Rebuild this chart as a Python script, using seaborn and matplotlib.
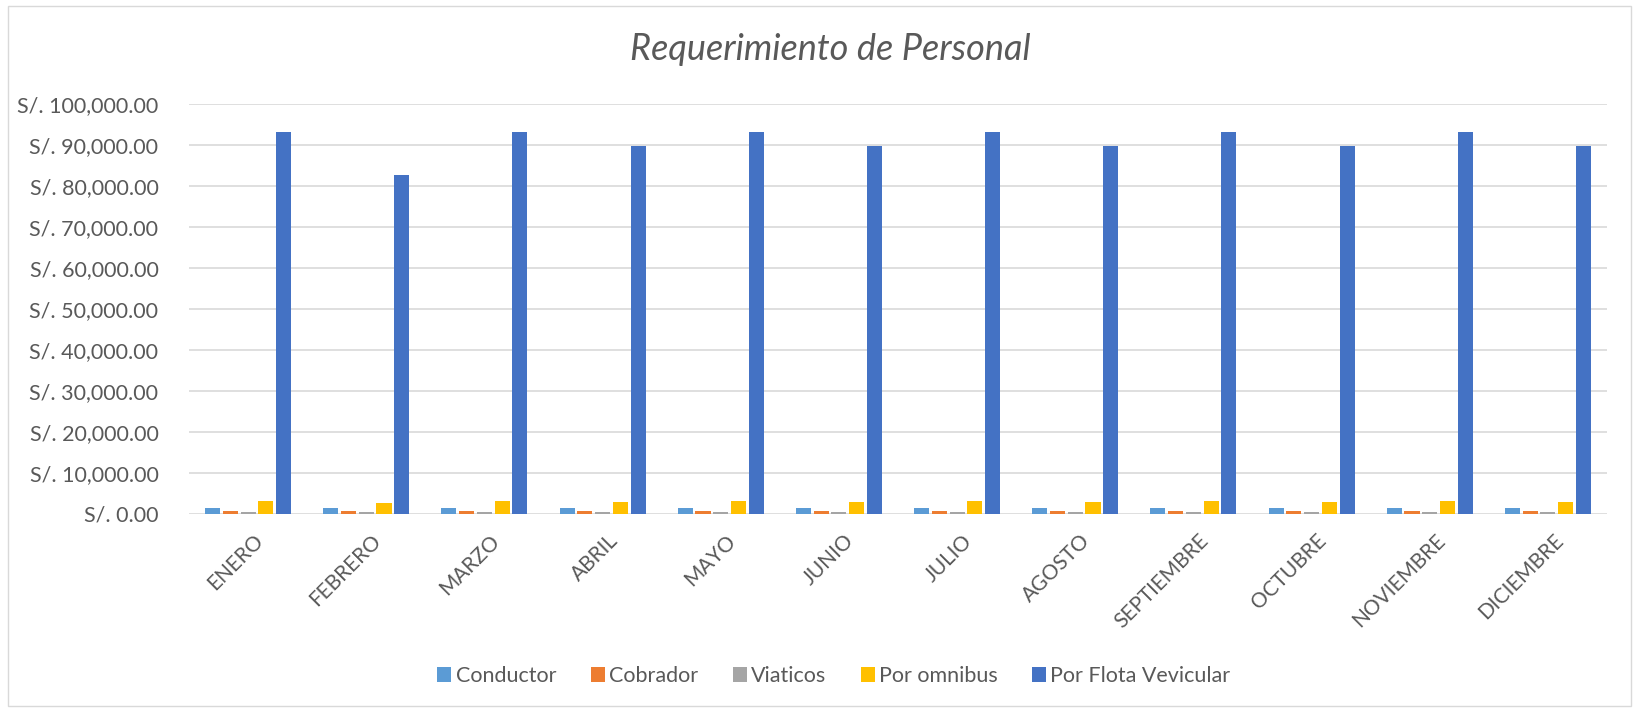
import numpy as np
import pandas as pd
import seaborn as sns
import matplotlib
matplotlib.use("Agg")
import matplotlib.pyplot as plt
from matplotlib.patches import Rectangle, Patch
from matplotlib.ticker import FuncFormatter
import matplotlib.transforms as mtransforms

months = ["ENERO", "FEBRERO", "MARZO", "ABRIL", "MAYO", "JUNIO", "JULIO",
          "AGOSTO", "SEPTIEMBRE", "OCTUBRE", "NOVIEMBRE", "DICIEMBRE"]
series = ["Conductor", "Cobrador", "Viaticos", "Por omnibus", "Por Flota Vevicular"]
conductor = [1550, 1400, 1550, 1500, 1550, 1500, 1550, 1500, 1550, 1500, 1550, 1500]
cobrador = [820, 740, 820, 790, 820, 790, 820, 790, 820, 790, 820, 790]
viaticos = [600, 540, 600, 580, 600, 580, 600, 580, 600, 580, 600, 580]
por_omnibus = [3100, 2800, 3100, 3000, 3100, 3000, 3100, 3000, 3100, 3000, 3100, 3000]
por_flota = [93100, 82800, 93100, 89700, 93100, 89700, 93100, 89700, 93100, 89700, 93100, 89700]
colors = ["#5B9BD5", "#ED7D31", "#A5A5A5", "#FFC000", "#4472C4"]

rows = []
for name, vals in zip(series, [conductor, cobrador, viaticos, por_omnibus, por_flota]):
    for m, v in zip(months, vals):
        rows.append({"Mes": m, "Serie": name, "Valor": v})
df = pd.DataFrame(rows)

sns.set_theme(style="white")
plt.rcParams["font.family"] = ["Lato", "DejaVu Sans"]
text_color = "#595959"

fig = plt.figure(figsize=(16.36, 7.11), dpi=100)
ax = fig.add_axes([189/1636, 1-514/711, (1607-189)/1636, (514-104)/711])

sns.barplot(data=df, x="Mes", y="Valor", hue="Serie", order=months, hue_order=series,
            palette=colors, width=0.75, gap=0.15, ax=ax, legend=False,
            saturation=1, errorbar=None, linewidth=0)

ax.set_ylim(0, 100000)
ax.set_yticks(np.arange(0, 100001, 10000))
ax.yaxis.set_major_formatter(FuncFormatter(lambda v, p: "S/. {:,.2f}".format(v)))
ax.grid(axis="y", color="#D9D9D9", linewidth=1.2)
ax.set_axisbelow(True)
for s in ax.spines.values():
    s.set_visible(False)
ax.set_xlabel("")
ax.set_ylabel("")
ax.tick_params(axis="y", length=0, pad=22, labelsize=15.5, labelcolor=text_color)
ax.tick_params(axis="x", length=0, pad=12, labelsize=15, labelcolor=text_color)
ax.set_xlim(-0.5, 11.5)
offset = mtransforms.ScaledTranslation(5/100, 0, fig.dpi_scale_trans)
for lab in ax.get_xticklabels():
    lab.set_rotation(45)
    lab.set_ha("right")
    lab.set_rotation_mode("anchor")
    lab.set_transform(lab.get_transform() + offset)

fig.text(830/1636, 1-50/711, "Requerimiento de Personal", ha="center", va="center",
         fontsize=26, style="italic", color=text_color)

handles = [Patch(facecolor=c, edgecolor="none") for c in colors]
fig.legend(handles, series, loc="center", bbox_to_anchor=(834/1636, 1-676/711), ncol=5,
           frameon=False, fontsize=15.5, labelcolor=text_color, handlelength=0.65,
           handleheight=0.65, handletextpad=0.2, columnspacing=1.6)

fig.patches.append(Rectangle((8/1636, 1-706/711), (1631-8)/1636, (706-6)/711,
                             transform=fig.transFigure, fill=False,
                             edgecolor="#D9D9D9", linewidth=1))

fig.savefig("out.png", dpi=100)
